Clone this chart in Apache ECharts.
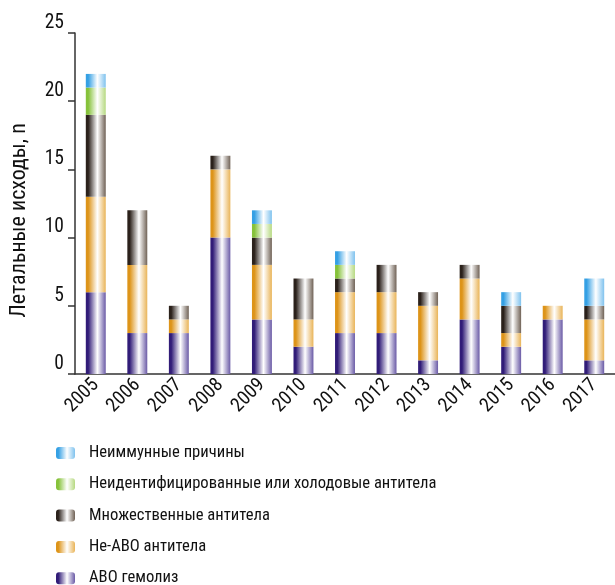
<!DOCTYPE html>
<html><head><meta charset="utf-8">
<script src="https://cdn.jsdelivr.net/npm/echarts@6/dist/echarts.min.js"></script>
<style>html,body{margin:0;padding:0;background:#fff}#c{width:615px;height:585px}</style>
</head><body><div id="c"></div>
<script>
var years = ['2005','2006','2007','2008','2009','2010','2011','2012','2013','2014','2015','2016','2017'];
var abo        = [6, 3, 3, 10, 4, 2, 3, 3, 1, 4, 2, 4, 1];
var nonAbo     = [7, 5, 1, 5, 4, 2, 3, 3, 4, 3, 1, 1, 3];
var multiple   = [6, 4, 1, 1, 2, 3, 1, 2, 1, 1, 2, 0, 1];
var unident    = [2, 0, 0, 0, 1, 0, 1, 0, 0, 0, 0, 0, 0];
var nonImmune  = [1, 0, 0, 0, 1, 0, 1, 0, 0, 0, 1, 0, 2];
var names = ['АВО гемолиз','Не-АВО антитела','Множественные антитела','Неидентифицированные или холодовые антитела','Неиммунные причины'];
var yTicks = [0,5,10,15,20,25];

var NARROW = "'Roboto Condensed','Liberation Sans Narrow','Arial Narrow',sans-serif";
var NUM = "'Roboto Condensed',Arial,sans-serif";
function grad(dark, light){
  return new echarts.graphic.LinearGradient(0,0,1,0,[
    {offset:0,color:dark},{offset:0.12,color:dark},{offset:0.58,color:'#ffffff'},{offset:1,color:light}
  ]);
}
var colors = [
  grad('#311c78','#6a5aa6'),
  grad('#dd9419','#e9b458'),
  grad('#2b211b','#706256'),
  grad('#86c23a','#b6d981'),
  grad('#35a0e4','#7fc2ee')
];
var datasets = [abo, nonAbo, multiple, unident, nonImmune];
var series = datasets.map(function(d,i){
  return {name:names[i], type:'bar', stack:'s', data:d.map(function(v){return v===0?'-':v;}), barWidth:'48%',
    itemStyle:{color:colors[i]}};
});
var chart = echarts.init(document.getElementById('c'),null,{renderer:'canvas'});
chart.setOption({
  animation:false,
  textStyle:{fontFamily:NUM},
  grid:{left:73,right:0,top:33,bottom:211,containLabel:false},
  legend:{orient:'vertical',left:51,top:438,height:200,itemWidth:19,itemHeight:12,itemGap:11.3,
    data:names.slice().reverse(),
    textStyle:{fontFamily:NARROW,fontSize:16.6,color:'#111',lineHeight:20,padding:[0,0,0,9]},
    selectedMode:false},
  xAxis:{type:'category',data:years,
    axisLine:{lineStyle:{color:'#333',width:1.5}},
    axisTick:{length:8,lineStyle:{color:'#333',width:1.5}},
    axisLabel:{rotate:45,fontSize:19.5,color:'#111',fontFamily:NUM,margin:8,interval:0}},
  yAxis:{type:'value',min:0,max:25,interval:5,
    name:'Летальные исходы, n',nameLocation:'middle',nameGap:45,nameRotate:90,
    nameTextStyle:{fontSize:22,color:'#111',fontFamily:NARROW,padding:[0,34,0,0]},
    axisLine:{show:true,lineStyle:{color:'#333',width:1.5}},
    axisTick:{show:true,length:7,lineStyle:{color:'#333',width:1.5}},
    splitLine:{show:false},
    axisLabel:{fontSize:19.5,color:'#111',fontFamily:NUM,margin:11,verticalAlign:'bottom',
      formatter:function(v){return yTicks.indexOf(v)>=0?String(v):'';}}},
  series:series
});
</script></body></html>
